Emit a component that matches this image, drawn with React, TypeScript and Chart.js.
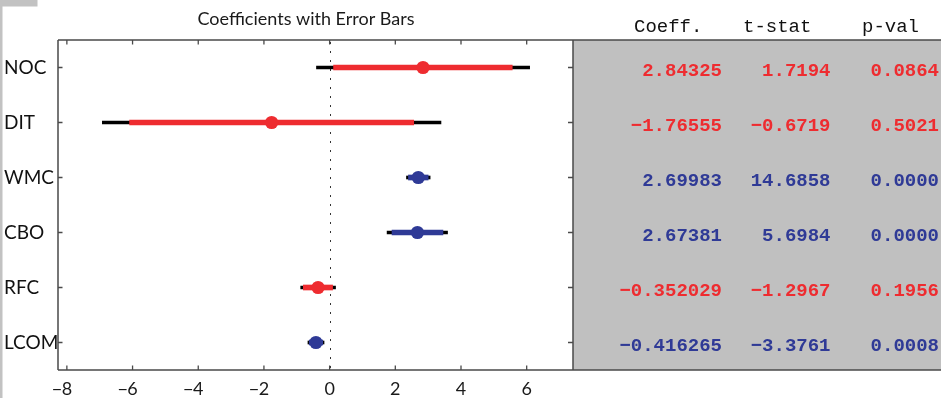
import React, { useEffect, useRef } from 'react';
import { Chart, registerables } from 'chart.js';

Chart.register(...registerables);

// ---- data ----
const categories = ['NOC', 'DIT', 'WMC', 'CBO', 'RFC', 'LCOM'];
const coeffs = [2.84325, -1.76555, 2.69983, 2.67381, -0.352029, -0.416265];
const tStats = [1.7194, -0.6719, 14.6858, 5.6984, -1.2967, -3.3761];
const pValues = [0.0864, 0.5021, 0.0, 0.0, 0.1956, 0.0008];
// outer (thin black) error bar ends
const ci95Low = [-0.4, -6.92, 2.34, 1.75, -0.88, -0.66];
const ci95High = [6.09, 3.39, 3.06, 3.59, 0.18, -0.17];
// inner (thick coloured) error bar ends
const ci90Low = [0.12, -6.09, 2.4, 1.9, -0.8, -0.62];
const ci90High = [5.56, 2.56, 3.0, 3.45, 0.09, -0.21];
const xTickValues = [-8, -6, -4, -2, 0, 2, 4, 6];
const tableHeaders = ['Coeff.', 't-stat', 'p-val'];
const chartTitle = 'Coefficients with Error Bars';

const RED = '#ee2c30';
const BLUE = '#2f3a96';
const AXIS = '#4a4a4a';
const PANEL = '#c0c0c0';

const colors = pValues.map((p) => (p < 0.05 ? BLUE : RED));
const MINUS = '\u2212';
const fmt = (s: string) => s.replace('-', MINUS);

const decor = {
  id: 'decor',
  beforeDraw(chart: any) {
    const ctx = chart.ctx;
    const { top, bottom, right } = chart.chartArea;
    ctx.save();
    ctx.fillStyle = '#ffffff';
    ctx.fillRect(0, 0, chart.width, chart.height);
    ctx.fillStyle = PANEL;
    ctx.fillRect(right, top, chart.width - right, bottom - top);
    ctx.fillStyle = '#c2c2c2';
    ctx.fillRect(0, 0, 2.5, chart.height);
    ctx.fillRect(0, 0, 37.5, 6.5);
    ctx.restore();
  },
  beforeDatasetsDraw(chart: any) {
    const ctx = chart.ctx;
    const { top, bottom } = chart.chartArea;
    const x0 = Math.round(chart.scales.x.getPixelForValue(0)) + 0.5;
    ctx.save();
    ctx.strokeStyle = '#333';
    ctx.lineWidth = 1;
    ctx.setLineDash([2, 7]);
    ctx.beginPath();
    ctx.moveTo(x0, top + 2);
    ctx.lineTo(x0, bottom);
    ctx.stroke();
    ctx.restore();
  },
  afterDraw(chart: any) {
    const ctx = chart.ctx;
    const { left, right, top, bottom } = chart.chartArea;
    const xs = chart.scales.x;
    const ys = chart.scales.y;
    ctx.save();
    // axes box
    ctx.strokeStyle = AXIS;
    ctx.lineWidth = 1.5;
    ctx.beginPath();
    ctx.moveTo(left, top);
    ctx.lineTo(chart.width, top);
    ctx.moveTo(left, bottom);
    ctx.lineTo(chart.width, bottom);
    ctx.moveTo(left, top);
    ctx.lineTo(left, bottom);
    ctx.moveTo(right, top);
    ctx.lineTo(right, bottom);
    ctx.stroke();
    // ticks (inward)
    ctx.lineWidth = 1.3;
    ctx.beginPath();
    xs.ticks.forEach((t: any) => {
      const px = xs.getPixelForValue(t.value);
      ctx.moveTo(px, bottom);
      ctx.lineTo(px, bottom - 4.5);
      ctx.moveTo(px, top);
      ctx.lineTo(px, top + 4.5);
    });
    categories.forEach((_, i) => {
      const py = ys.getPixelForValue(i);
      ctx.moveTo(left, py);
      ctx.lineTo(left + 4.5, py);
      ctx.moveTo(right, py);
      ctx.lineTo(right - 5, py);
    });
    ctx.stroke();
    // x tick labels: digits centred on the tick, minus hanging to the left
    ctx.fillStyle = '#1a1a1a';
    ctx.font = '18px Lato';
    ctx.textBaseline = 'alphabetic';
    xs.ticks.forEach((t: any) => {
      const px = xs.getPixelForValue(t.value);
      const digits = String(Math.abs(t.value));
      const w = ctx.measureText(digits).width;
      ctx.textAlign = 'center';
      ctx.fillText(digits, px, 395);
      if (t.value < 0) {
        ctx.textAlign = 'right';
        ctx.fillText(MINUS, px - w / 2 + 0.5, 395);
      }
    });
    // title
    ctx.textAlign = 'center';
    ctx.font = '18px Lato';
    ctx.fillStyle = '#1a1a1a';
    ctx.fillText(chartTitle, 306, 25);
    // table headers
    const headerX = [634, 743, 862];
    const rightX = [722, 830.5, 939];
    ctx.font = '19px "Liberation Mono"';
    ctx.fillStyle = '#111';
    ctx.textAlign = 'left';
    tableHeaders.forEach((h, i) => ctx.fillText(h, headerX[i], 32));
    // table rows
    ctx.font = 'bold 19px "Liberation Mono"';
    ctx.textAlign = 'right';
    categories.forEach((_, i) => {
      const py = ys.getPixelForValue(i) + 8.5;
      ctx.fillStyle = colors[i];
      ctx.fillText(fmt(coeffs[i].toPrecision(6)), rightX[0], py);
      ctx.fillText(fmt(tStats[i].toFixed(4)), rightX[1], py);
      ctx.fillText(fmt(pValues[i].toFixed(4)), rightX[2], py);
    });
    ctx.restore();
  },
};

export default function App() {
  const ref = useRef<HTMLCanvasElement | null>(null);
  useEffect(() => {
    if (!ref.current) return;
    const chart = new Chart(ref.current, {
      type: 'bar',
      data: {
        labels: categories,
        datasets: [
          {
            type: 'line',
            indexAxis: 'y',
            data: coeffs,
            showLine: false,
            pointRadius: 6.6,
            pointBorderWidth: 0,
            pointBackgroundColor: colors,
            pointBorderColor: colors,
            order: 0,
          } as any,
          {
            data: categories.map((_, i) => [ci90Low[i], ci90High[i]]),
            backgroundColor: colors,
            barThickness: 5,
            grouped: false,
            borderWidth: 0,
            borderSkipped: false,
            order: 1,
          } as any,
          {
            data: categories.map((_, i) => [ci95Low[i], ci95High[i]]),
            backgroundColor: '#000000',
            barThickness: 3,
            grouped: false,
            borderWidth: 0,
            borderSkipped: false,
            order: 2,
          } as any,
        ],
      },
      options: {
        indexAxis: 'y',
        animation: false,
        responsive: false,
        layout: { padding: { left: 4, top: 40, right: 368, bottom: 0 } },
        plugins: { legend: { display: false }, tooltip: { enabled: false }, title: { display: false } },
        scales: {
          x: {
            type: 'linear',
            min: -8.27,
            max: 7.41,
            afterBuildTicks: (s: any) => {
              s.ticks = xTickValues.map((v) => ({ value: v }));
            },
            afterFit: (s: any) => {
              s.height = 28;
            },
            ticks: { display: false },
            grid: { display: false },
            border: { display: false },
          },
          y: {
            type: 'category',
            labels: categories,
            offset: true,
            afterFit: (s: any) => {
              s.width = 54;
            },
            ticks: {
              crossAlign: 'far',
              color: '#111',
              font: { family: 'Lato', size: 19 },
            },
            grid: { display: false, drawTicks: false },
            border: { display: false },
          },
        },
      } as any,
      plugins: [decor],
    });
    return () => chart.destroy();
  }, []);
  return (
    <div style={{ position: 'fixed', left: 0, top: 0, width: 941, height: 398, background: '#fff' }}>
      <canvas ref={ref} width={941} height={398} style={{ width: 941, height: 398, display: 'block' }} />
    </div>
  );
}
